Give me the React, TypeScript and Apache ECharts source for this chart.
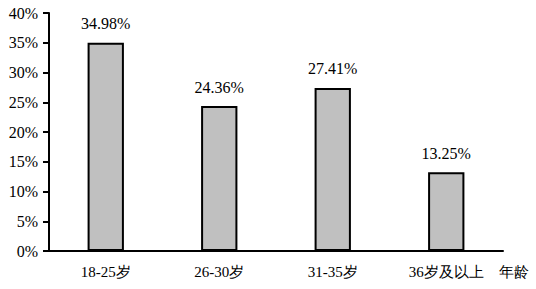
import React, { useEffect, useRef } from "react";
import * as echarts from "echarts";

const categories = ["18-25岁", "26-30岁", "31-35岁", "36岁及以上"];
const values = [34.98, 24.36, 27.41, 13.25];
const axisName = "年龄";

const FONT = "Times New Roman, DejaVu Serif, serif";

export default function App() {
  const ref = useRef<HTMLDivElement>(null);
  useEffect(() => {
    if (!ref.current) return;
    const chart = echarts.init(ref.current, undefined, { renderer: "svg" });
    chart.setOption({
      animation: false,
      backgroundColor: "#ffffff",
      textStyle: { fontFamily: FONT },
      grid: { left: 49, right: 33, top: 13, bottom: 38 },
      xAxis: {
        type: "category",
        data: categories,
        name: axisName,
        nameLocation: "end",
        nameGap: 11,
        nameTextStyle: {
          fontFamily: FONT,
          fontSize: 15,
          color: "#000",
          align: "center",
          verticalAlign: "top",
          padding: [13, 0, 0, 0],
        },
        axisLine: { lineStyle: { color: "#000", width: 2 } },
        axisTick: { show: false },
        axisLabel: { fontFamily: FONT, fontSize: 15, color: "#000", margin: 13 },
      },
      yAxis: {
        type: "value",
        min: 0,
        max: 40,
        interval: 5,
        splitLine: { show: false },
        axisLine: { show: true, lineStyle: { color: "#000", width: 2 } },
        axisTick: { show: true, length: 6, lineStyle: { color: "#000", width: 2 } },
        axisLabel: {
          fontFamily: FONT,
          fontSize: 16,
          color: "#000",
          margin: 11,
          formatter: "{value}%",
        },
      },
      series: [
        {
          type: "bar",
          data: values,
          barWidth: "32%",
          itemStyle: { color: "#c0c0c0", borderColor: "#000", borderWidth: 2 },
          label: {
            show: true,
            position: "top",
            distance: 11,
            fontFamily: FONT,
            fontSize: 16,
            color: "#000",
            formatter: (p: any) => p.value.toFixed(2) + "%",
          },
        },
      ],
    });
    return () => chart.dispose();
  }, []);
  return <div ref={ref} style={{ width: 536, height: 289, position: "absolute", left: 0, top: 0 }} />;
}
